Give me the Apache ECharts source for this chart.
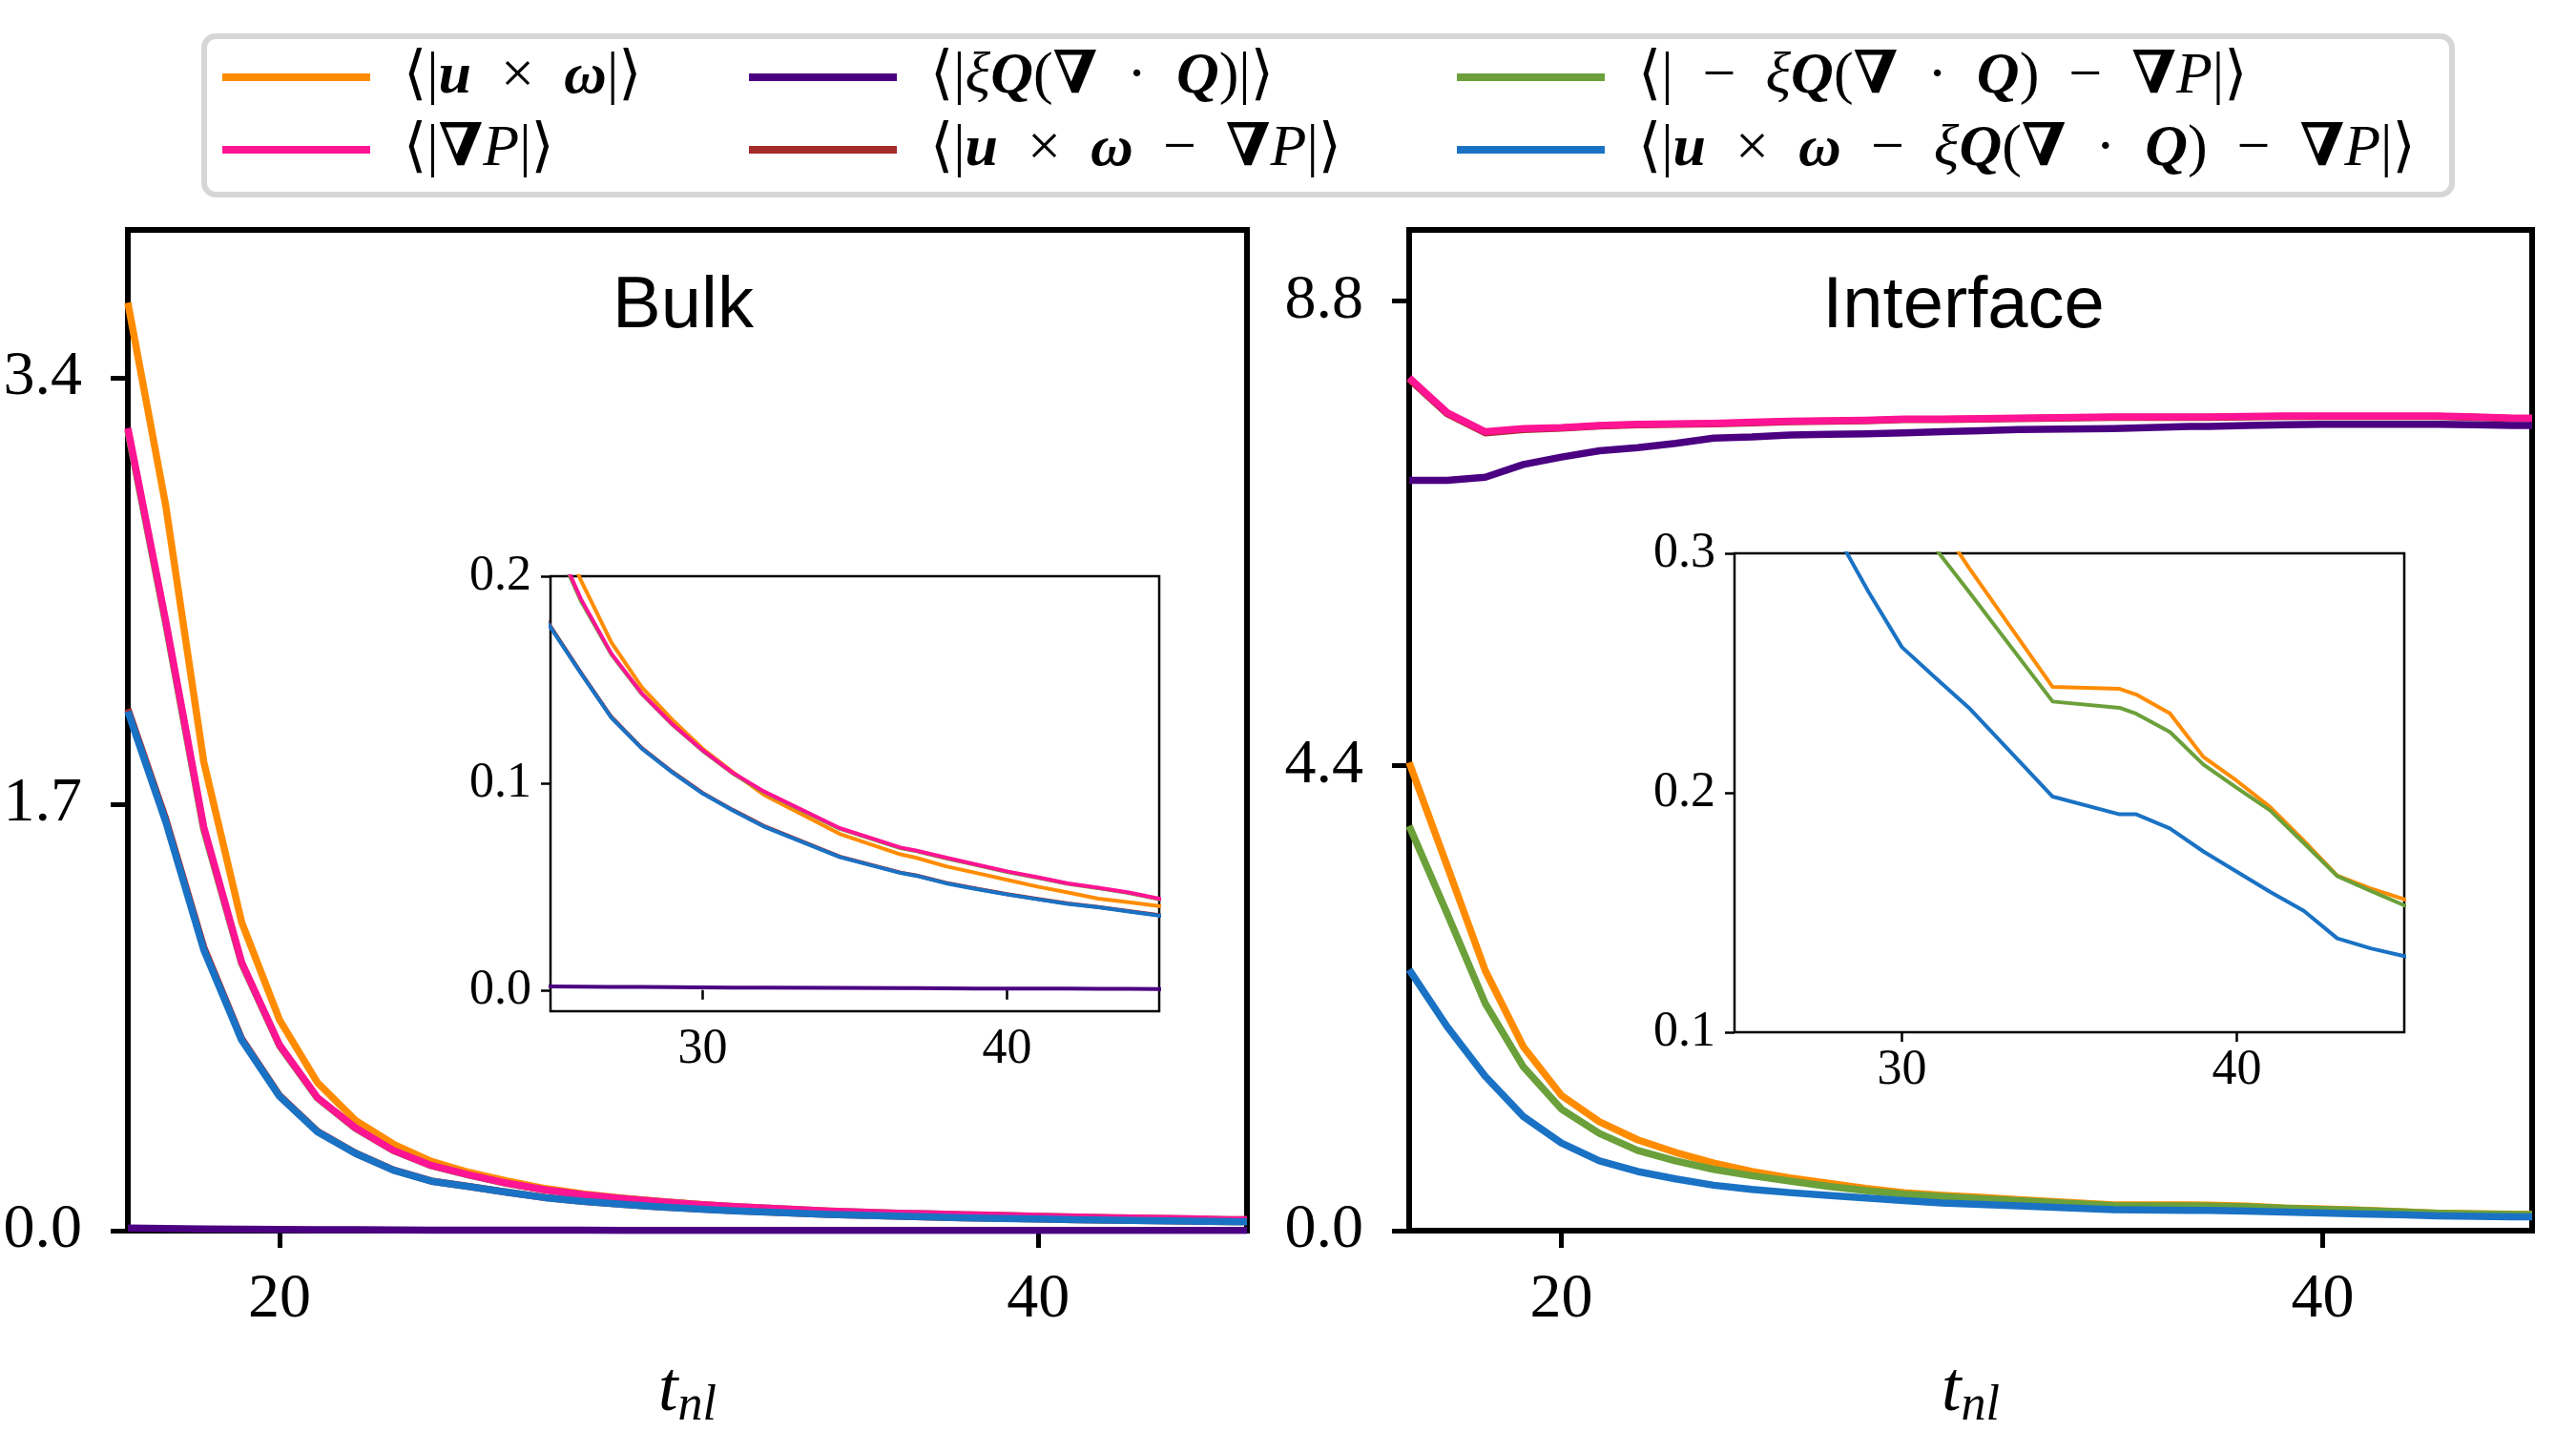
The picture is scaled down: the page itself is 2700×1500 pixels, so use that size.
<!DOCTYPE html>
<html>
<head>
<meta charset="utf-8">
<title>Bulk / Interface</title>
<script src="https://cdn.jsdelivr.net/npm/echarts/dist/echarts.min.js"></script>
<style>
html, body { margin: 0; padding: 0; background: #fff; }
#chart { width: 2700px; height: 1500px; }
</style>
</head>
<body>
<div id="chart"></div>
<script>
// sample times t_nl
var tnl = [16, 17, 18, 19, 20, 21, 22, 23, 24, 25, 26, 27, 28, 29, 30, 31, 32, 34.5, 36.5, 37, 38, 39, 40, 41, 42, 43, 44, 45, 45.5];

// Bulk
var bulkUw       = [3.70, 2.89, 1.87, 1.23, 0.84, 0.59, 0.44, 0.345, 0.276, 0.232, 0.198, 0.168, 0.1464, 0.1307, 0.1167, 0.1052, 0.0945, 0.0755, 0.0656, 0.0640, 0.0598, 0.0566, 0.0533, 0.0500, 0.0472, 0.0442, 0.0425, 0.0406, 0.0400];
var bulkGradP    = [3.20, 2.43, 1.61, 1.07, 0.74, 0.53, 0.41, 0.32, 0.26, 0.222, 0.189, 0.1626, 0.1434, 0.1286, 0.1159, 0.1049, 0.0961, 0.0783, 0.0689, 0.0675, 0.0640, 0.0607, 0.0574, 0.0546, 0.0516, 0.0495, 0.0472, 0.0442, 0.0436];
var bulkXiQ      = [0.010, 0.0085, 0.007, 0.006, 0.005, 0.0042, 0.0035, 0.0028, 0.0022, 0.0018, 0.0017, 0.0016, 0.0015, 0.0014, 0.0013, 0.0012, 0.0012, 0.0011, 0.0010, 0.0010, 0.0009, 0.0008, 0.0008, 0.0007, 0.0007, 0.0006, 0.0006, 0.0005, 0.0005];
var bulkUwGradP  = [2.08, 1.64, 1.13, 0.765, 0.538, 0.396, 0.309, 0.242, 0.198, 0.1758, 0.1534, 0.1320, 0.1170, 0.1055, 0.0953, 0.0870, 0.0794, 0.0645, 0.0568, 0.0555, 0.0518, 0.0490, 0.0464, 0.0441, 0.0419, 0.0402, 0.0382, 0.0362, 0.0357];
var bulkXiQGradP = [3.19, 2.42, 1.60, 1.065, 0.737, 0.528, 0.408, 0.319, 0.259, 0.221, 0.188, 0.1622, 0.1431, 0.1283, 0.1156, 0.1046, 0.0958, 0.0780, 0.0686, 0.0672, 0.0637, 0.0604, 0.0571, 0.0543, 0.0513, 0.0492, 0.0469, 0.0439, 0.0433];
var bulkAll      = [2.07, 1.63, 1.12, 0.76, 0.535, 0.394, 0.308, 0.241, 0.197, 0.1753, 0.153, 0.1316, 0.1167, 0.1052, 0.095, 0.0867, 0.0791, 0.0643, 0.0566, 0.0553, 0.0516, 0.0488, 0.0462, 0.0439, 0.0417, 0.0400, 0.0380, 0.0360, 0.0355];

// Interface
var intUw       = [4.43, 3.45, 2.46, 1.74, 1.28, 1.03, 0.86, 0.74, 0.64, 0.56, 0.50, 0.45, 0.40, 0.36, 0.335, 0.315, 0.294, 0.2442, 0.2434, 0.241, 0.2332, 0.215, 0.205, 0.194, 0.180, 0.1654, 0.160, 0.1555, 0.153];
var intGradP    = [8.07, 7.74, 7.56, 7.59, 7.60, 7.62, 7.63, 7.635, 7.64, 7.65, 7.66, 7.665, 7.67, 7.68, 7.68, 7.685, 7.69, 7.70, 7.70, 7.70, 7.705, 7.71, 7.71, 7.71, 7.71, 7.71, 7.70, 7.69, 7.69];
var intXiQ      = [7.10, 7.10, 7.13, 7.25, 7.32, 7.38, 7.41, 7.45, 7.50, 7.51, 7.53, 7.535, 7.54, 7.55, 7.56, 7.57, 7.58, 7.59, 7.61, 7.61, 7.62, 7.625, 7.63, 7.63, 7.63, 7.63, 7.625, 7.62, 7.62];
var intUwGradP  = [8.06, 7.73, 7.55, 7.58, 7.595, 7.615, 7.625, 7.63, 7.635, 7.645, 7.655, 7.66, 7.665, 7.675, 7.675, 7.68, 7.685, 7.695, 7.695, 7.695, 7.70, 7.705, 7.705, 7.705, 7.705, 7.705, 7.695, 7.685, 7.685];
var intXiQGradP = [3.83, 3.0, 2.15, 1.55, 1.15, 0.92, 0.76, 0.66, 0.58, 0.52, 0.47, 0.42, 0.38, 0.345, 0.322, 0.302, 0.284, 0.2381, 0.2355, 0.233, 0.2254, 0.2118, 0.202, 0.1926, 0.179, 0.1652, 0.159, 0.153, 0.151];
var intAll      = [2.47, 1.93, 1.46, 1.08, 0.83, 0.66, 0.56, 0.49, 0.43, 0.39, 0.36, 0.335, 0.309, 0.284, 0.2608, 0.248, 0.2355, 0.1984, 0.191, 0.191, 0.1851, 0.1755, 0.167, 0.1586, 0.1507, 0.1392, 0.135, 0.1318, 0.130];

// tick labels
var mainXTicks = [20, 40];
var insetXTicks = [30, 40];
var bulkYTicks = [0, 1.7, 3.4];
var intYTicks = [0, 4.4, 8.8];
var bulkInsetYTicks = [0.0, 0.1, 0.2];
var intInsetYTicks = [0.1, 0.2, 0.3];

var names = ['⟨|u × ω|⟩', '⟨|∇P|⟩', '⟨|ξQ(∇ · Q)|⟩', '⟨|u × ω − ∇P|⟩', '⟨| − ξQ(∇ · Q) − ∇P|⟩', '⟨|u × ω − ξQ(∇ · Q) − ∇P|⟩'];
var colors = ['#ff8c00', '#ff1493', '#4b0082', '#a52a2a', '#6ba03a', '#1a72c4'];
var drawOrder = [0, 3, 4, 1, 2, 5];

var bulk = [bulkUw, bulkGradP, bulkXiQ, bulkUwGradP, bulkXiQGradP, bulkAll];
var iface = [intUw, intGradP, intXiQ, intUwGradP, intXiQGradP, intAll];

var serif = "'Liberation Serif', 'DejaVu Serif', serif";
var sans = "'Liberation Sans', 'DejaVu Sans', sans-serif";

var legendRich = {};
legendRich[names[0]] = '{n|⟨|}{bi|u}{n|  ×  }{bi|ω}{n||⟩}';
legendRich[names[1]] = '{n|⟨|}{b|∇}{i|P}{n||⟩}';
legendRich[names[2]] = '{n|⟨|}{i|ξ}{bi|Q}{n|(}{b|∇}{n|  ·  }{bi|Q}{n|)|⟩}';
legendRich[names[3]] = '{n|⟨|}{bi|u}{n|  ×  }{bi|ω}{n|  −  }{b|∇}{i|P}{n||⟩}';
legendRich[names[4]] = '{n|⟨|  −  }{i|ξ}{bi|Q}{n|(}{b|∇}{n|  ·  }{bi|Q}{n|)  −  }{b|∇}{i|P}{n||⟩}';
legendRich[names[5]] = '{n|⟨|}{bi|u}{n|  ×  }{bi|ω}{n|  −  }{i|ξ}{bi|Q}{n|(}{b|∇}{n|  ·  }{bi|Q}{n|)  −  }{b|∇}{i|P}{n||⟩}';

var lf = 62;
var rich = {
	n: {fontFamily: serif, fontSize: lf, color: '#000'},
	i: {fontFamily: serif, fontSize: lf, fontStyle: 'italic', color: '#000'},
	bi: {fontFamily: serif, fontSize: lf, fontStyle: 'italic', fontWeight: 'bold', color: '#000'},
	b: {fontFamily: serif, fontSize: lf, fontWeight: 'bold', color: '#000'}
};

function legendCol(items, left) {
	return {
		data: items,
		left: left,
		top: 48,
		orient: 'vertical',
		padding: 0,
		itemGap: 10,
		itemWidth: 155,
		itemHeight: 8,
		icon: 'rect',
		selectedMode: false,
		formatter: function(n) {
			return legendRich[n];
		},
		textStyle: {
			fontFamily: serif,
			fontSize: lf,
			color: '#000',
			lineHeight: 66,
			padding: [0, 0, 0, 30],
			rich: rich
		}
	};
}

function grid(left, top, width, height, bw) {
	return {
		left: left, top: top, width: width, height: height,
		show: true, backgroundColor: '#fff',
		borderColor: '#000', borderWidth: bw,
		containLabel: false, outerBoundsMode: 'none'
	};
}

function axis(gi, min, max, ticks, big, isY) {
	return {
		type: 'value',
		gridIndex: gi,
		min: min,
		max: max,
		axisLine: {show: false},
		splitLine: {show: false},
		axisTick: {
			show: true,
			customValues: ticks,
			length: big ? 18 : 10,
			lineStyle: {color: '#000', width: big ? 5 : 2.5}
		},
		axisLabel: {
			customValues: ticks,
			margin: big ? (isY ? 48 : 40) : (isY ? 20 : 14),
			fontFamily: serif,
			fontSize: big ? 66 : 52,
			color: '#000',
			formatter: function(v) {
				return isY ? v.toFixed(1) : String(Math.round(v));
			}
		}
	};
}

function mainX(gi) {
	var a = axis(gi, 16, 45.5, mainXTicks, true, false);
	a.name = '{t|t}{s|nl}';
	a.nameLocation = 'middle';
	a.nameGap = 132;
	a.nameTextStyle = {
		rich: {
			t: {fontFamily: serif, fontStyle: 'italic', fontSize: 74, color: '#000', lineHeight: 78, verticalAlign: 'top'},
			s: {fontFamily: serif, fontStyle: 'italic', fontSize: 52, color: '#000', lineHeight: 50, padding: [32, 0, 0, 0], verticalAlign: 'bottom'}
		}
	};
	return a;
}

function lineSeries(k, data, ax, width) {
	return {
		name: names[k],
		type: 'line',
		xAxisIndex: ax,
		yAxisIndex: ax,
		data: tnl.map(function(t, i) {
			return [t, data[i]];
		}),
		symbol: 'none',
		showSymbol: false,
		clip: true,
		silent: true,
		lineStyle: {color: colors[k], width: width, join: 'round'},
		itemStyle: {color: colors[k]}
	};
}

var series = [];
[[bulk, 0, 7.5], [iface, 1, 7.5], [bulk, 2, 4], [iface, 3, 4]].forEach(function(p) {
	drawOrder.forEach(function(k) {
		series.push(lineSeries(k, p[0][k], p[1], p[2]));
	});
});

var option = {
	backgroundColor: '#fff',
	animation: false,
	legend: [
		legendCol([names[0], names[1]], 233),
		legendCol([names[2], names[3]], 785),
		legendCol([names[4], names[5]], 1527)
	],
	grid: [
		grid(134, 241, 1173, 1049, 6),
		grid(1477, 241, 1177, 1049, 6),
		grid(577, 604, 638, 456, 2.5),
		grid(1818, 580, 702, 502, 2.5)
	],
	xAxis: [
		mainX(0),
		mainX(1),
		axis(2, 25, 45, insetXTicks, false, false),
		axis(3, 25, 45, insetXTicks, false, false)
	],
	yAxis: [
		axis(0, 0, 3.99, bulkYTicks, true, true),
		axis(1, 0, 9.47, intYTicks, true, true),
		axis(2, -0.0102, 0.2, bulkInsetYTicks, false, true),
		axis(3, 0.1, 0.3, intInsetYTicks, false, true)
	],
	graphic: [
		{
			type: 'rect', z: 0,
			shape: {x: 214, y: 38, width: 2356, height: 166, r: 12},
			style: {fill: '#fff', stroke: '#d6d6d6', lineWidth: 6}
		},
		{
			type: 'text', x: 716, y: 322, z: 10,
			style: {text: 'Bulk', font: '76px ' + sans, fill: '#000', align: 'center', verticalAlign: 'middle'}
		},
		{
			type: 'text', x: 2058, y: 322, z: 10,
			style: {text: 'Interface', font: '76px ' + sans, fill: '#000', align: 'center', verticalAlign: 'middle'}
		}
	],
	series: series
};

var chart = echarts.init(document.getElementById('chart'));
chart.setOption(option);
window.addEventListener('resize', function() {
	chart.resize();
});
</script>
</body>
</html>
